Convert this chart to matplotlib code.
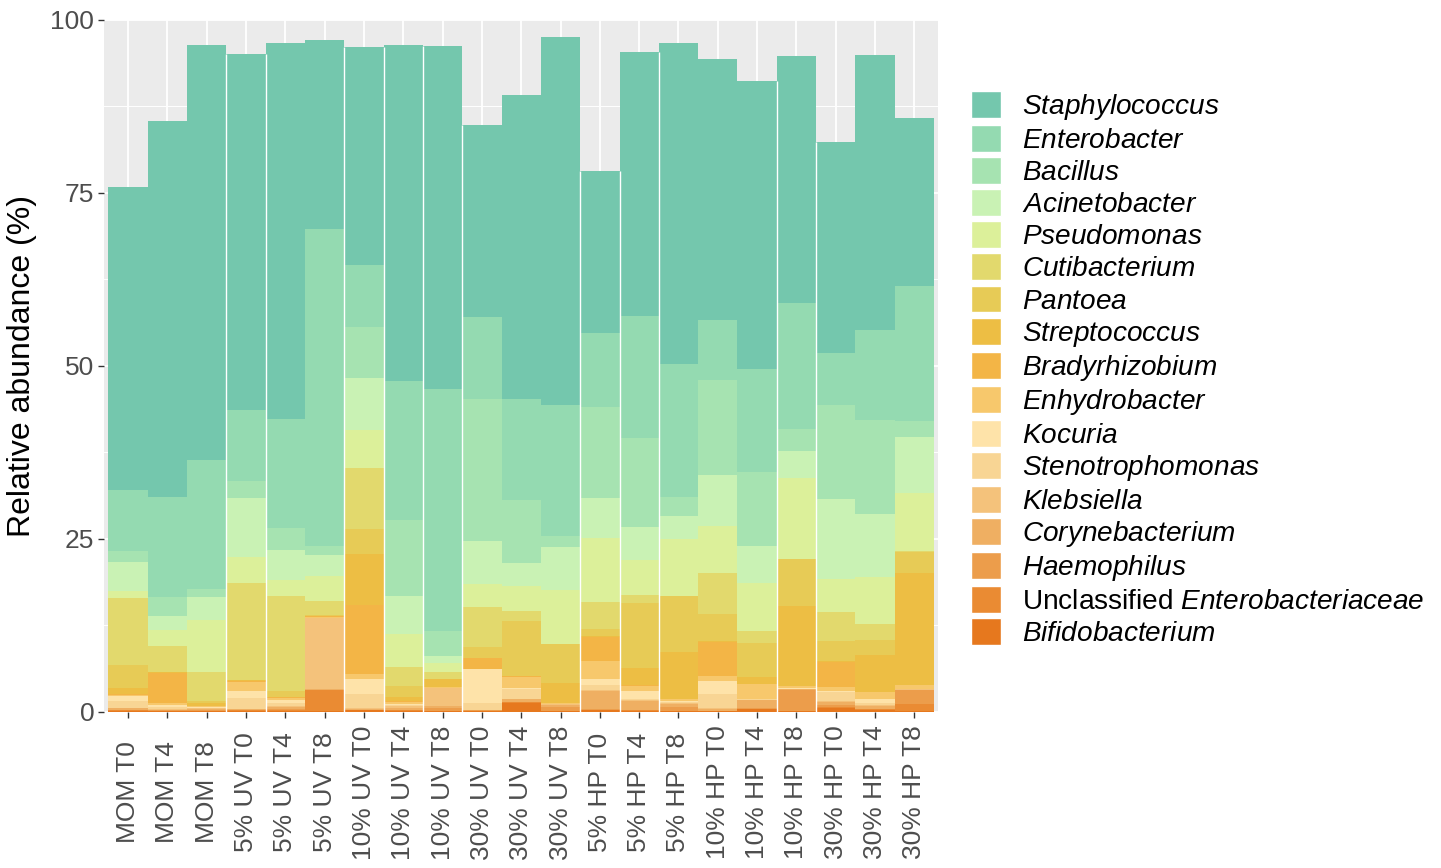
import numpy as np
import matplotlib.pyplot as plt
from matplotlib.patches import Patch

plt.rcParams["font.family"] = "Liberation Sans"
plt.rcParams["mathtext.fontset"] = "custom"
plt.rcParams["mathtext.it"] = "Liberation Sans:italic"
plt.rcParams["mathtext.rm"] = "Liberation Sans"

samples = ["MOM T0", "MOM T4", "MOM T8",
           "5% UV T0", "5% UV T4", "5% UV T8",
           "10% UV T0", "10% UV T4", "10% UV T8",
           "30% UV T0", "30% UV T4", "30% UV T8",
           "5% HP T0", "5% HP T4", "5% HP T8",
           "10% HP T0", "10% HP T4", "10% HP T8",
           "30% HP T0", "30% HP T4", "30% HP T8"]

# relative abundance (%) per genus, one value per sample
staphylococcus = [43.9, 54.4, 60.0, 51.5, 54.4, 27.3, 31.5, 48.6, 49.5, 27.7, 43.9, 53.2, 23.5, 38.2, 46.5, 37.6, 41.7, 35.7, 30.6, 39.8, 24.3]
enterobacter = [8.7, 14.4, 18.6, 10.3, 15.7, 45.9, 9.0, 20.1, 35.0, 11.9, 14.6, 19.0, 10.7, 17.6, 19.2, 8.7, 14.9, 18.3, 7.4, 13.0, 19.4]
bacillus = [1.7, 2.7, 1.2, 2.4, 3.2, 1.3, 7.3, 10.9, 3.7, 20.5, 9.2, 1.6, 13.1, 12.8, 2.7, 13.8, 10.6, 3.2, 13.7, 13.5, 2.4]
acinetobacter = [4.1, 2.1, 3.4, 8.5, 4.3, 3.0, 7.5, 5.5, 0.9, 6.2, 3.2, 6.2, 5.8, 4.8, 3.3, 7.3, 5.4, 3.9, 11.5, 9.2, 8.1]
pseudomonas = [1.1, 2.3, 7.5, 3.8, 2.3, 3.6, 5.6, 4.9, 1.3, 3.4, 3.7, 7.7, 9.3, 5.0, 8.2, 6.9, 6.9, 11.6, 4.8, 6.7, 8.4]
cutibacterium = [9.6, 3.7, 4.1, 14.0, 13.8, 2.0, 8.8, 2.7, 1.0, 5.8, 1.4, 0.1, 3.9, 1.2, 0.1, 5.8, 1.7, 0.1, 4.1, 2.4, 0.1]
pantoea = [3.4, 0.1, 0.4, 0.05, 0.8, 0.1, 3.6, 1.5, 0.1, 1.5, 8.0, 5.6, 1.0, 9.4, 8.0, 4.0, 5.0, 6.7, 3.0, 2.2, 3.1]
streptococcus = [0.8, 0.1, 0.3, 0.05, 0.1, 0.1, 7.3, 0.6, 1.1, 0.05, 0.05, 2.9, 0.1, 2.5, 6.8, 0.05, 1.0, 11.6, 0.1, 5.3, 16.1]
bradyrhizobium = [0.15, 4.3, 0.1, 0.2, 0.1, 0.1, 10.0, 0.2, 0.05, 1.5, 0.05, 0.05, 3.4, 0.1, 0.05, 4.95, 0.05, 0.05, 3.6, 0.05, 0.05]
enhydrobacter = [0.1, 0.3, 0.1, 1.3, 0.3, 0.1, 0.8, 0.3, 0.05, 0.05, 1.6, 0.05, 2.7, 0.8, 0.3, 0.8, 2.1, 0.3, 0.6, 0.9, 0.5]
kocuria = [0.85, 0.3, 0.1, 1.0, 0.5, 0.05, 2.1, 0.1, 0.05, 5.0, 0.2, 0.05, 0.8, 1.1, 0.1, 1.9, 0.05, 0.05, 0.2, 0.6, 0.05]
stenotrophomonas = [0.9, 0.3, 0.1, 1.6, 0.4, 0.05, 2.1, 0.2, 0.05, 0.9, 1.4, 0.05, 0.8, 0.2, 0.2, 2.0, 0.05, 0.05, 1.3, 0.3, 0.05]
klebsiella = [0.1, 0.1, 0.1, 0.05, 0.1, 10.2, 0.1, 0.3, 2.6, 0.05, 0.05, 0.05, 0.1, 0.1, 0.1, 0.05, 0.05, 0.05, 0.1, 0.2, 0.05]
corynebacterium = [0.2, 0.1, 0.2, 0.05, 0.3, 0.1, 0.1, 0.2, 0.2, 0.05, 0.4, 0.3, 2.6, 1.3, 0.4, 0.3, 1.2, 0.1, 0.4, 0.4, 0.1]
haemophilus = [0.1, 0.1, 0.1, 0.1, 0.2, 0.1, 0.05, 0.1, 0.5, 0.05, 0.05, 0.6, 0.1, 0.05, 0.6, 0.05, 0.05, 3.0, 0.3, 0.05, 2.0]
unclassified_enterobacteriaceae = [0.1, 0.05, 0.05, 0.1, 0.1, 3.0, 0.05, 0.1, 0.05, 0.05, 0.05, 0.05, 0.1, 0.05, 0.05, 0.05, 0.05, 0.05, 0.2, 0.05, 1.0]
bifidobacterium = [0.1, 0.05, 0.05, 0.1, 0.1, 0.1, 0.2, 0.1, 0.05, 0.1, 1.3, 0.05, 0.2, 0.15, 0.1, 0.05, 0.4, 0.1, 0.5, 0.3, 0.1]

genera = ["Staphylococcus", "Enterobacter", "Bacillus", "Acinetobacter", "Pseudomonas",
          "Cutibacterium", "Pantoea", "Streptococcus", "Bradyrhizobium", "Enhydrobacter",
          "Kocuria", "Stenotrophomonas", "Klebsiella", "Corynebacterium", "Haemophilus",
          "Unclassified Enterobacteriaceae", "Bifidobacterium"]
values = [staphylococcus, enterobacter, bacillus, acinetobacter, pseudomonas,
          cutibacterium, pantoea, streptococcus, bradyrhizobium, enhydrobacter,
          kocuria, stenotrophomonas, klebsiella, corynebacterium, haemophilus,
          unclassified_enterobacteriaceae, bifidobacterium]
colors = ["#74C7AD", "#94DAB1", "#A6E3B1", "#C9F2B4", "#DCF09A",
          "#E2D96D", "#E7CB56", "#EDBE44", "#F3B546", "#F7C86C",
          "#FEE3A9", "#F8D594", "#F4C27B", "#EFAF62", "#EC9D4B",
          "#EA8B33", "#E6781E"]


def legend_label(name):
    # genus names in italics, "Unclassified" stays upright
    if name.startswith("Unclassified "):
        return "Unclassified $\\it{" + name.split(" ")[1] + "}$"
    return "$\\it{" + name + "}$"


fig = plt.figure(figsize=(14.41, 8.68), dpi=100)
ax = fig.add_axes([0.0722, 0.180, 0.579, 0.797])
ax.set_facecolor("#EBEBEB")
ax.set_axisbelow(True)

x = np.arange(len(samples))
bottom = np.zeros(len(samples))
# stack from the last genus (bottom) up to Staphylococcus (top)
for name, vals, col in reversed(list(zip(genera, values, colors))):
    ax.bar(x, vals, width=1.0, bottom=bottom, color=col, linewidth=0)
    bottom += np.array(vals)

# thin white seams visible between some neighbouring bars
seams = [3, 4, 6, 7, 8, 9, 12, 13, 14, 17, 18]
for k in seams:
    ax.vlines(k - 0.5, 0, min(bottom[k - 1], bottom[k]), color="white", linewidth=1.0)

ax.set_xlim(-0.61, len(samples) - 0.39)
ax.set_ylim(0, 100)
ax.set_yticks([0, 25, 50, 75, 100])
ax.set_yticks([12.5, 37.5, 62.5, 87.5], minor=True)
ax.set_xticks(x)
ax.set_xticklabels(samples, rotation=90, va="center", ha="center")
ax.grid(which="major", color="white", linewidth=1.3)
ax.grid(which="minor", axis="y", color="white", linewidth=0.7)
for s in ax.spines.values():
    s.set_visible(False)
ax.tick_params(which="major", length=4, width=1, color="#333333",
               labelsize=19, labelcolor="#4D4D4D")
ax.tick_params(axis="x", pad=54)
ax.tick_params(axis="y", pad=3)
ax.tick_params(which="minor", length=0)
ax.set_ylabel("Relative abundance (%)", fontsize=23, color="black", labelpad=10)

handles = [Patch(facecolor=c, edgecolor="white", linewidth=1) for c in colors]
labels = [legend_label(g) for g in genera]
fig.legend(handles, labels, loc="upper left", bbox_to_anchor=(971 / 1441, 1 - 91 / 868),
           frameon=False, fontsize=20.2, handlelength=1.08, handleheight=1.1,
           labelspacing=0.11, handletextpad=0.72, borderpad=0, borderaxespad=0)

fig.savefig("out.png", dpi=100)
